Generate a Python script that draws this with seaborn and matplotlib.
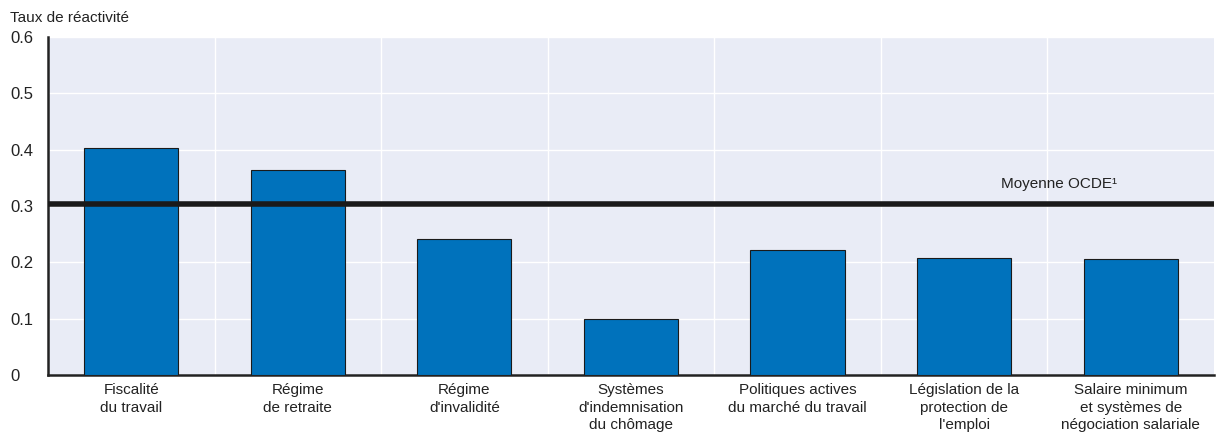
import matplotlib
matplotlib.use("Agg")
import matplotlib.pyplot as plt
import matplotlib.ticker as mticker
import seaborn as sns
import pandas as pd

# ── Data ──────────────────────────────────────────────────────────────────────
categories = [
    "Fiscalité\ndu travail",
    "Régime\nde retraite",
    "Régime\nd'invalidité",
    "Systèmes\nd'indemnisation\ndu chômage",
    "Politiques actives\ndu marché du travail",
    "Législation de la\nprotection de\nl'emploi",
    "Salaire minimum\net systèmes de\nnégociation salariale",
]
values = [0.403, 0.364, 0.241, 0.099, 0.222, 0.208, 0.206]
oecd_mean = 0.304
mean_label = "Moyenne OCDE¹"
y_title = "Taux de réactivité"
y_ticks = [0, 0.1, 0.2, 0.3, 0.4, 0.5, 0.6]

# ── Style ─────────────────────────────────────────────────────────────────────
sns.set_theme(style="white")
plt.rcParams["font.family"] = ["Liberation Sans Narrow", "Liberation Sans", "DejaVu Sans"]
BG = "#e9ecf6"
BAR = "#0072bc"
TXT = "#222222"

df = pd.DataFrame({"cat": categories, "val": values})

fig = plt.figure(figsize=(12.18, 4.44), dpi=100)
ax = fig.add_axes([0.0394, 0.1554, 0.9573, 0.7613])
ax.set_facecolor(BG)

sns.barplot(data=df, x="cat", y="val", color=BAR, saturation=1, width=0.565,
            edgecolor="#1a1a1a", linewidth=0.8, ax=ax, zorder=3)

ax.set_xlim(-0.5, len(categories) - 0.5)
ax.set_ylim(0, 0.6)
ax.set_yticks(y_ticks)
ax.yaxis.set_major_formatter(mticker.FuncFormatter(lambda v, _: "0" if v == 0 else f"{v:.1f}"))

# grid: white lines at category boundaries and y ticks
ax.xaxis.set_minor_locator(mticker.FixedLocator([i + 0.5 for i in range(len(categories) - 1)]))
ax.grid(True, which="minor", axis="x", color="white", linewidth=1.0, zorder=0)
ax.grid(True, which="major", axis="y", color="white", linewidth=1.0, zorder=0)
ax.set_axisbelow(True)

ax.tick_params(axis="x", which="major", length=0, pad=6, labelsize=11, labelcolor=TXT)
ax.tick_params(axis="x", which="minor", direction="in", length=5, width=1.2, color="#222222")
ax.tick_params(axis="y", direction="in", length=5, width=1.2, color="#222222",
               pad=27, labelsize=12, labelcolor=TXT)
for lab in ax.get_xticklabels():
    lab.set_linespacing(1.3)
for lab in ax.get_yticklabels():
    lab.set_horizontalalignment("left")

for side in ["top", "right"]:
    ax.spines[side].set_visible(False)
for side in ["left", "bottom"]:
    ax.spines[side].set_color("#222222")
    ax.spines[side].set_linewidth(1.8)

ax.set_xlabel("")
ax.set_ylabel("")

# OECD mean line
ax.axhline(oecd_mean, color="#1a1a1a", linewidth=4, zorder=5, solid_capstyle="butt")
ax.text(5.57, oecd_mean + 0.022, mean_label, ha="center", va="bottom",
        fontsize=11, color=TXT, zorder=6)

fig.text(0.008, 0.96, y_title, ha="left", va="center", fontsize=11, color=TXT)

fig.savefig("out.png", dpi=100)
